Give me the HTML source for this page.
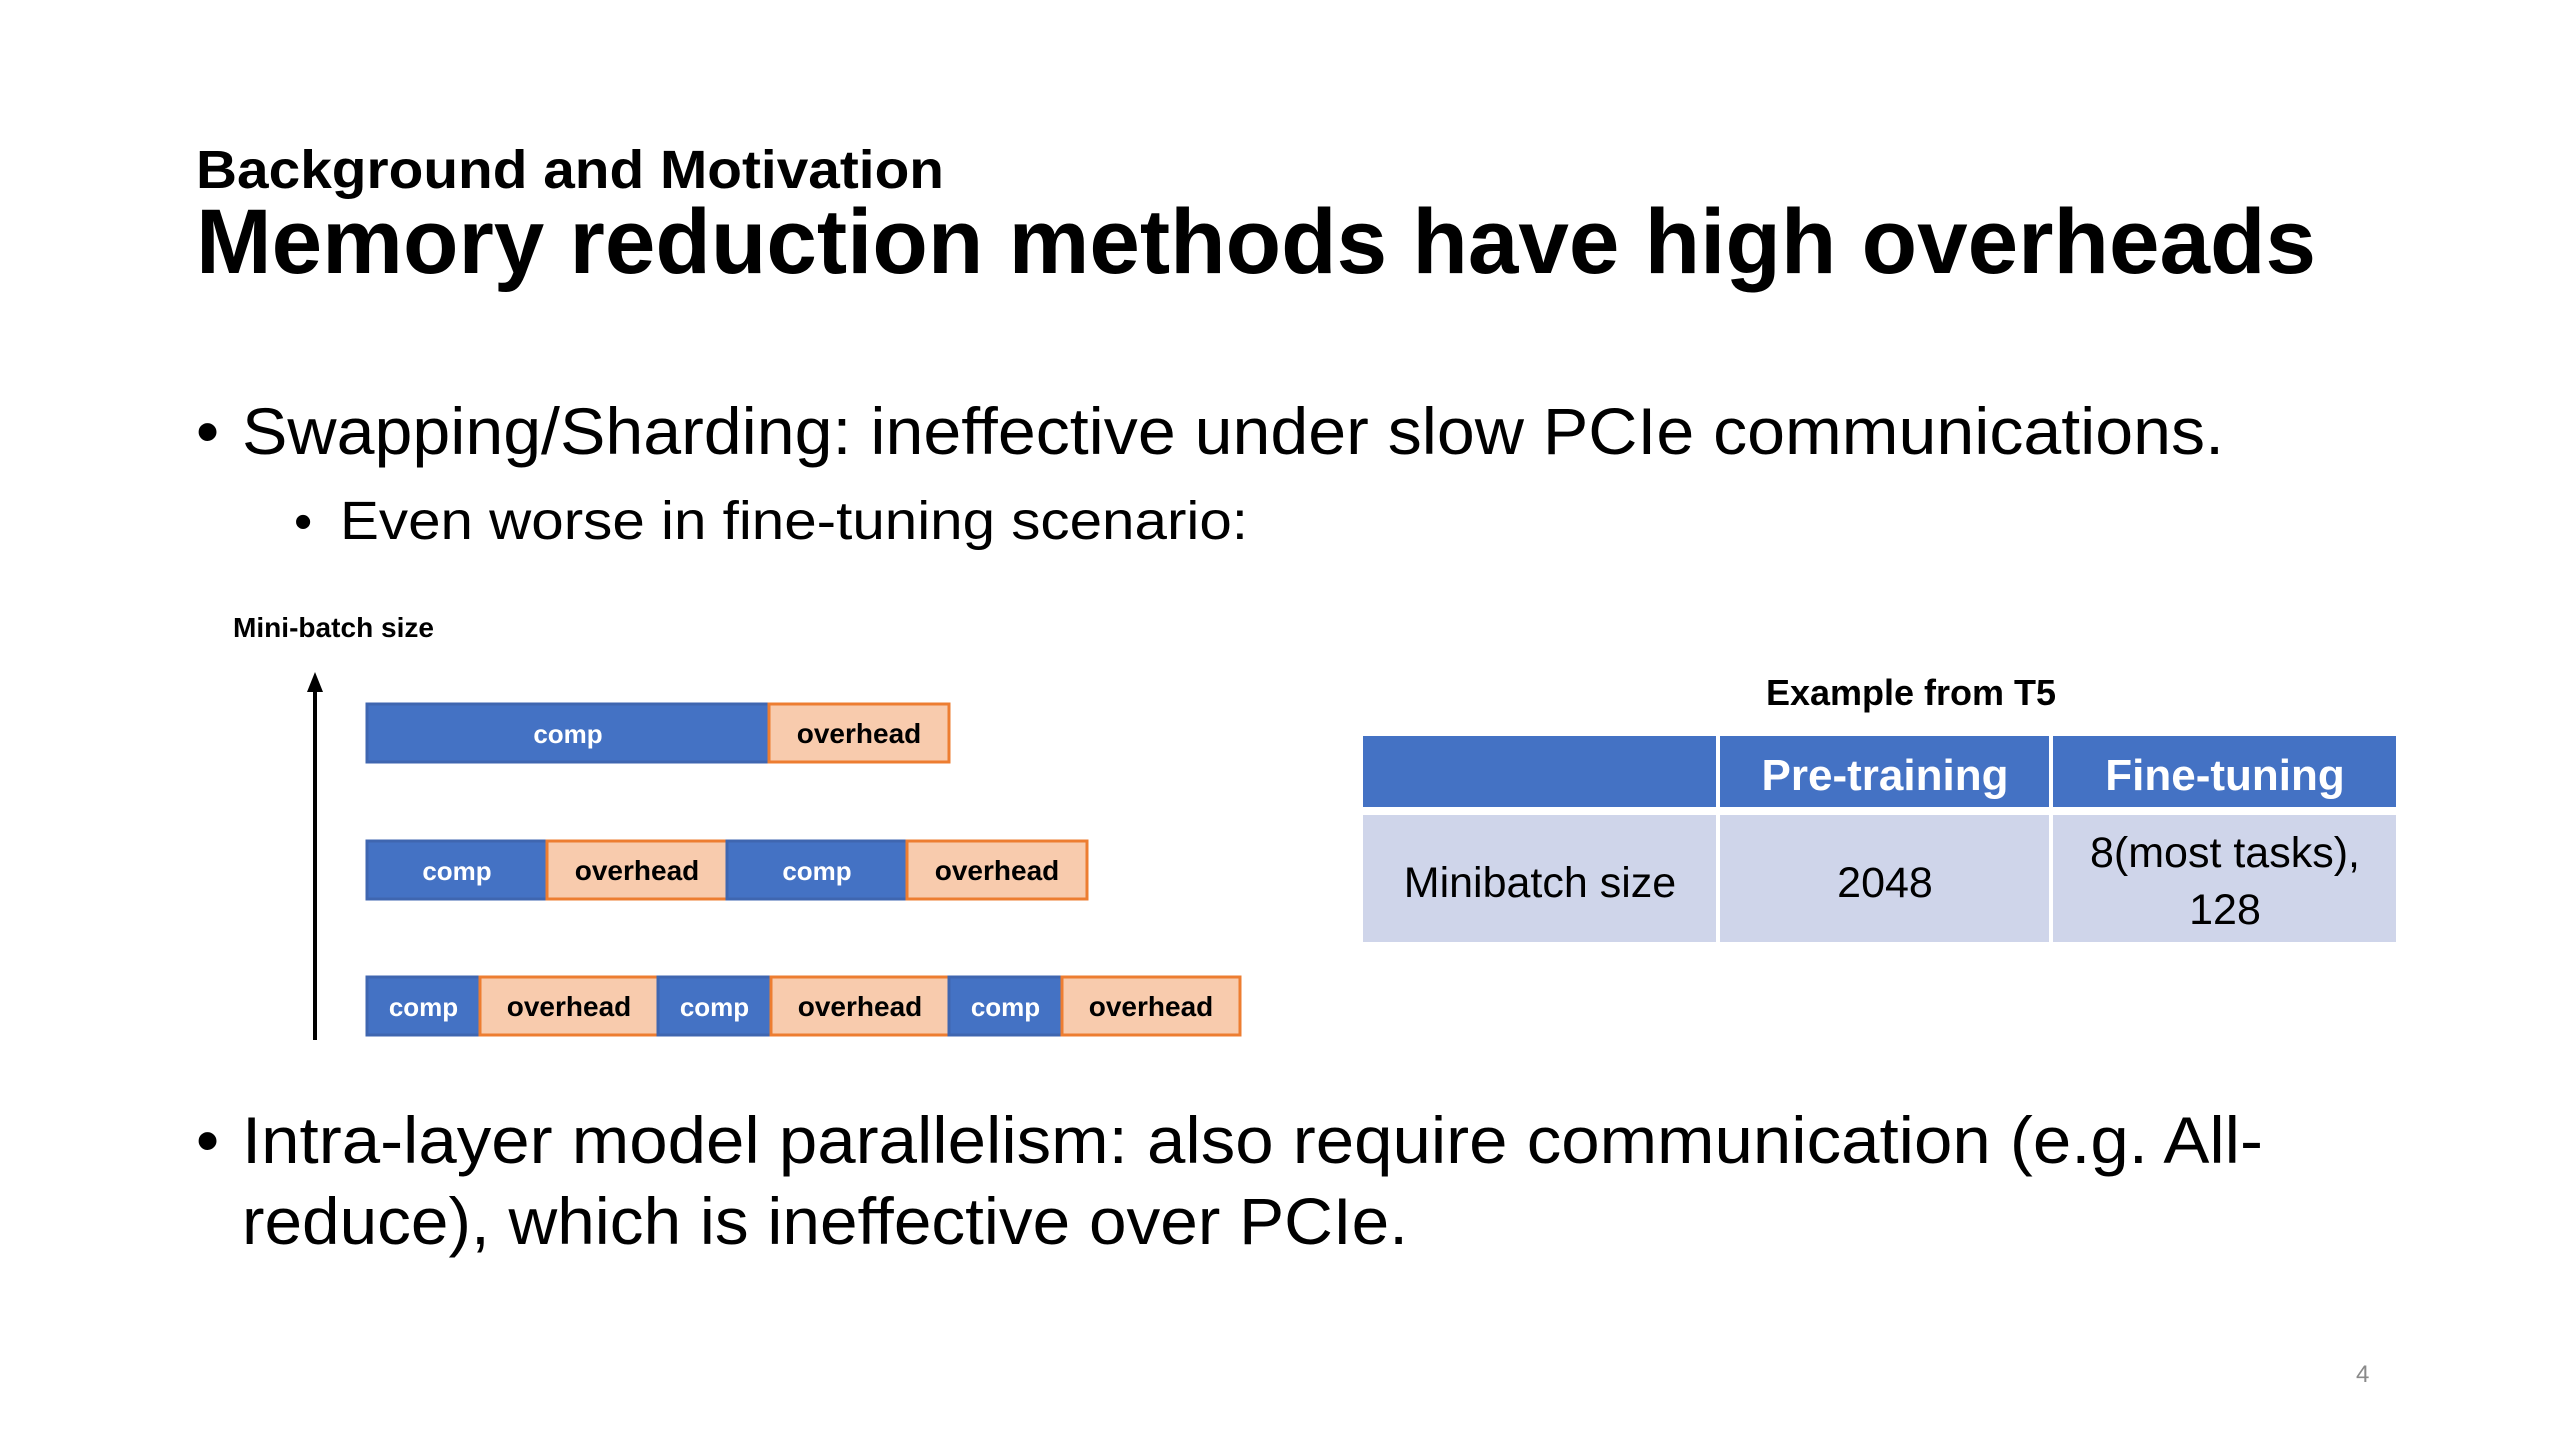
<!DOCTYPE html>
<html><head><meta charset="utf-8"><style>
html,body{margin:0;padding:0;background:#fff;}
svg{display:block;font-family:"Liberation Sans",sans-serif;}
</style></head><body>
<svg width="2560" height="1440" viewBox="0 0 2560 1440">
<rect width="2560" height="1440" fill="#fff"/>
<text x="196" y="188" font-size="54" font-weight="bold" textLength="748" lengthAdjust="spacingAndGlyphs">Background and Motivation</text>
<text x="196" y="273" font-size="92" font-weight="bold" textLength="2120" lengthAdjust="spacingAndGlyphs">Memory reduction methods have high overheads</text>

<text x="196" y="454" font-size="66">•</text>
<text x="242" y="454" font-size="66" textLength="1982" lengthAdjust="spacingAndGlyphs">Swapping/Sharding: ineffective under slow PCIe communications.</text>
<text x="294" y="539" font-size="52">•</text>
<text x="340" y="539" font-size="54" textLength="908" lengthAdjust="spacingAndGlyphs">Even worse in fine-tuning scenario:</text>

<text x="233" y="637" font-size="28" font-weight="bold" textLength="201" lengthAdjust="spacingAndGlyphs">Mini-batch size</text>
<line x1="315" y1="1040" x2="315" y2="688" stroke="#000" stroke-width="4"/>
<polygon points="315,672 307,692 323,692" fill="#000"/>
<g id="bars"></g>

<text x="1911" y="705" font-size="36" font-weight="bold" text-anchor="middle">Example from T5</text>
<g>
<rect x="1363" y="736" width="353" height="71" fill="#4472C4"/>
<rect x="1720" y="736" width="329" height="71" fill="#4472C4"/>
<rect x="2053" y="736" width="343" height="71" fill="#4472C4"/>
<rect x="1363" y="815" width="353" height="127" fill="#CFD5EA"/>
<rect x="1720" y="815" width="329" height="127" fill="#CFD5EA"/>
<rect x="2053" y="815" width="343" height="127" fill="#CFD5EA"/>
<text x="1885" y="790" font-size="44" font-weight="bold" fill="#fff" text-anchor="middle">Pre-training</text>
<text x="2225" y="790" font-size="44" font-weight="bold" fill="#fff" text-anchor="middle">Fine-tuning</text>
<text x="1540" y="897" font-size="43" text-anchor="middle">Minibatch size</text>
<text x="1885" y="897" font-size="43" text-anchor="middle">2048</text>
<text x="2225" y="867" font-size="43" text-anchor="middle">8(most tasks),</text>
<text x="2225" y="924" font-size="43" text-anchor="middle">128</text>
</g>

<text x="196" y="1163" font-size="66">•</text>
<text x="242" y="1163" font-size="66" textLength="2021" lengthAdjust="spacingAndGlyphs">Intra-layer model parallelism: also require communication (e.g. All-</text>
<text x="242" y="1244" font-size="66" textLength="1166" lengthAdjust="spacingAndGlyphs">reduce), which is ineffective over PCIe.</text>
<text x="2356" y="1382" font-size="24" fill="#8a8a8a">4</text>
</svg>
<script>
// rows top to bottom: comp/overhead segment widths (units)
const rowLabels = ['1 chunk','2 chunks','3 chunks'];
const compWidths = [402, 180, 113];
const overheadWidths = [180, 180, 178];
const chunkCounts = [1, 2, 3];
const rowTops = [704, 841, 977];
const x0 = 367, barH = 58;
const NS = 'http://www.w3.org/2000/svg';
const g = document.getElementById('bars');
function seg(x, y, w, type){
  const r = document.createElementNS(NS,'rect');
  r.setAttribute('x', x); r.setAttribute('y', y);
  r.setAttribute('width', w); r.setAttribute('height', barH);
  r.setAttribute('fill', type==='comp' ? '#4472C4' : '#F8CBAD');
  r.setAttribute('stroke', type==='comp' ? '#3F66B0' : '#ED7D31');
  r.setAttribute('stroke-width', '3');
  
  
  g.appendChild(r);
  const t = document.createElementNS(NS,'text');
  t.setAttribute('x', x + w/2); t.setAttribute('y', y + barH/2 + 10);
  t.setAttribute('text-anchor','middle');
  t.setAttribute('font-weight','bold');
  t.setAttribute('font-size', type==='comp' ? '26' : '28');
  t.setAttribute('fill', type==='comp' ? '#fff' : '#000');
  t.textContent = type==='comp' ? 'comp' : 'overhead';
  
  
  g.appendChild(t);
}
rowLabels.forEach((lab, i) => {
  let x = x0;
  for (let k = 0; k < chunkCounts[i]; k++) {
    seg(x, rowTops[i], compWidths[i], 'comp'); x += compWidths[i];
    seg(x, rowTops[i], overheadWidths[i], 'overhead'); x += overheadWidths[i];
  }
});
</script>
</body></html>
